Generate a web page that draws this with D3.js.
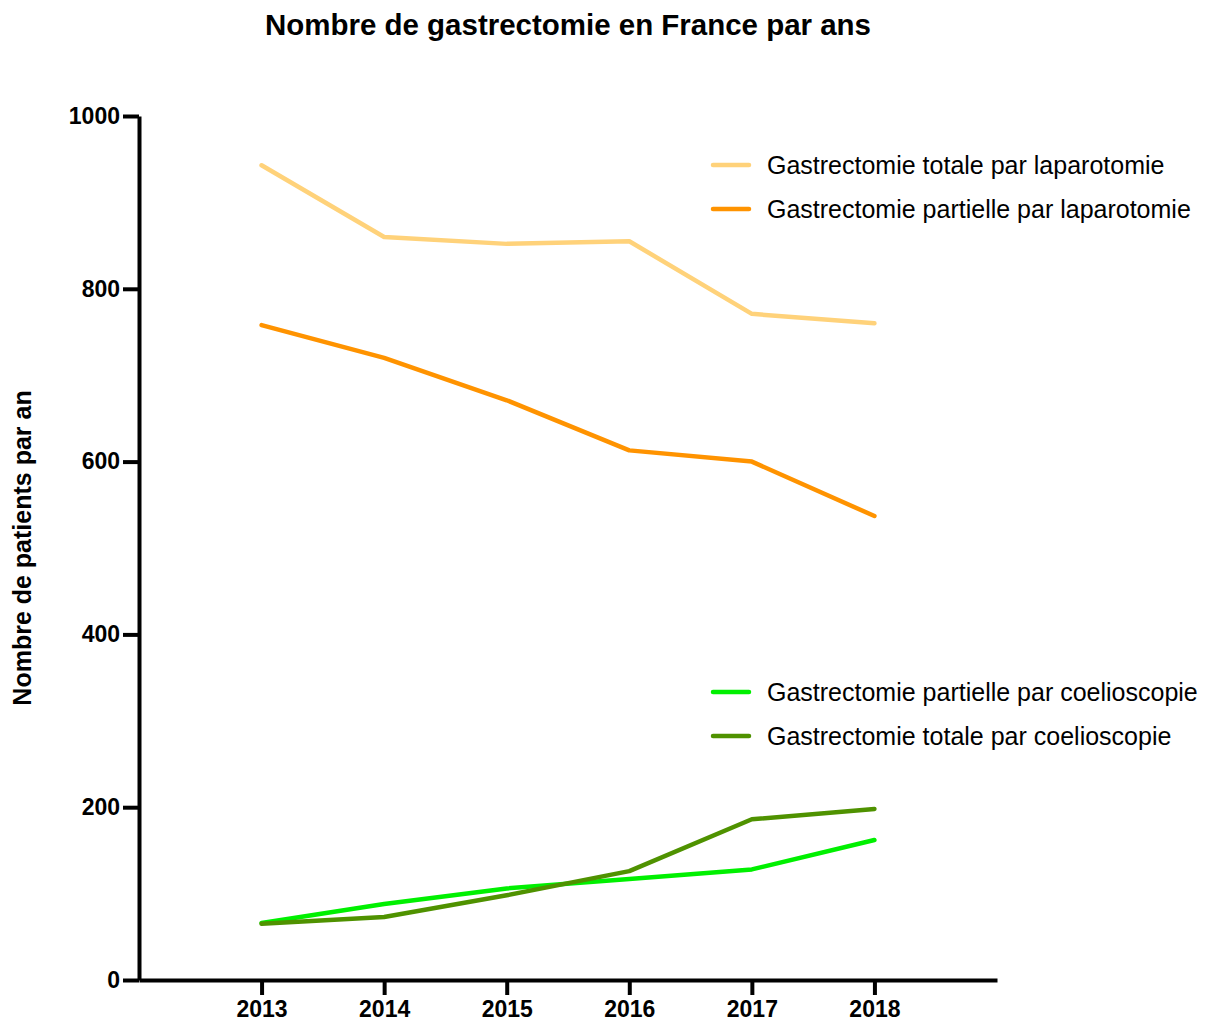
<!DOCTYPE html>
<html>
<head>
<meta charset="utf-8">
<script src="https://cdn.jsdelivr.net/npm/d3@7"></script>
<style>
  body { margin: 0; background: #fff; }
  svg { display: block; font-family: "Liberation Sans", Arial, sans-serif; }
</style>
</head>
<body>
<svg id="chart" width="1210" height="1021"></svg>
<script>
const years = [2013, 2014, 2015, 2016, 2017, 2018];
const yTicks = [0, 200, 400, 600, 800, 1000];

const totaleLaparo = [943, 860, 852, 855, 771, 760];
const partielleLaparo = [758, 720, 671, 613, 600, 537];
const partielleCoelio = [66, 88, 106, 117, 128, 162];
const totaleCoelio = [65, 73, 98, 126, 186, 198];

const series = [
  { name: "Gastrectomie totale par laparotomie", values: totaleLaparo, color: "#ffd27a" },
  { name: "Gastrectomie partielle par laparotomie", values: partielleLaparo, color: "#ff9300" },
  { name: "Gastrectomie partielle par coelioscopie", values: partielleCoelio, color: "#00f000" },
  { name: "Gastrectomie totale par coelioscopie", values: totaleCoelio, color: "#4f9200" },
];

const svg = d3.select("#chart");
const plotLeft = 139, plotRight = 997, plotTop = 116, plotBottom = 980;

const x = d3.scaleLinear().domain([2012, 2019]).range([plotLeft, plotRight]);
const y = d3.scaleLinear().domain([0, 1000]).range([plotBottom, plotTop]);

svg.append("text")
  .attr("x", 568).attr("y", 35)
  .attr("text-anchor", "middle")
  .attr("font-size", 29).attr("font-weight", "bold")
  .attr("textLength", 606).attr("lengthAdjust", "spacingAndGlyphs")
  .text("Nombre de gastrectomie en France par ans");

svg.append("text")
  .attr("transform", `translate(31, 548) rotate(-90)`)
  .attr("text-anchor", "middle")
  .attr("font-size", 25).attr("font-weight", "bold")
  .text("Nombre de patients par an");

const yAxis = svg.append("g")
  .attr("transform", `translate(${plotLeft},0)`)
  .call(d3.axisLeft(y).tickValues(yTicks).tickFormat(d3.format("d")).tickSize(16).tickPadding(3).tickSizeOuter(0));

const xAxis = svg.append("g")
  .attr("transform", `translate(0,${plotBottom})`)
  .call(d3.axisBottom(x).tickValues(years).tickFormat(d3.format("d")).tickSize(15).tickPadding(6).tickSizeOuter(0));

[yAxis, xAxis].forEach((axis) => {
  axis.select(".domain").attr("stroke", "#000").attr("stroke-width", 4);
  axis.selectAll(".tick line").attr("stroke", "#000").attr("stroke-width", 4);
  axis.selectAll(".tick text")
    .attr("fill", "#000")
    .attr("font-size", 23)
    .attr("font-weight", "bold")
    .attr("font-family", "Liberation Sans, Arial, sans-serif");
});

const line = d3.line()
  .x((d, i) => x(years[i]))
  .y((d) => y(d));

svg.append("g")
  .selectAll("path")
  .data(series)
  .join("path")
  .attr("fill", "none")
  .attr("stroke", (s) => s.color)
  .attr("stroke-width", 4.5)
  .attr("stroke-linejoin", "round")
  .attr("stroke-linecap", "round")
  .attr("d", (s) => line(s.values));

const legendRows = [
  { s: series[0], y: 165 },
  { s: series[1], y: 209 },
  { s: series[2], y: 692 },
  { s: series[3], y: 736 },
];

const legend = svg.append("g")
  .selectAll("g")
  .data(legendRows)
  .join("g")
  .attr("transform", (d) => `translate(713,${d.y})`);

legend.append("line")
  .attr("x1", 0).attr("x2", 36)
  .attr("stroke", (d) => d.s.color)
  .attr("stroke-width", 4.5)
  .attr("stroke-linecap", "round");

legend.append("text")
  .attr("x", 54).attr("dy", "0.35em")
  .attr("font-size", 25)
  .attr("fill", "#000")
  .text((d) => d.s.name);
</script>
</body>
</html>
